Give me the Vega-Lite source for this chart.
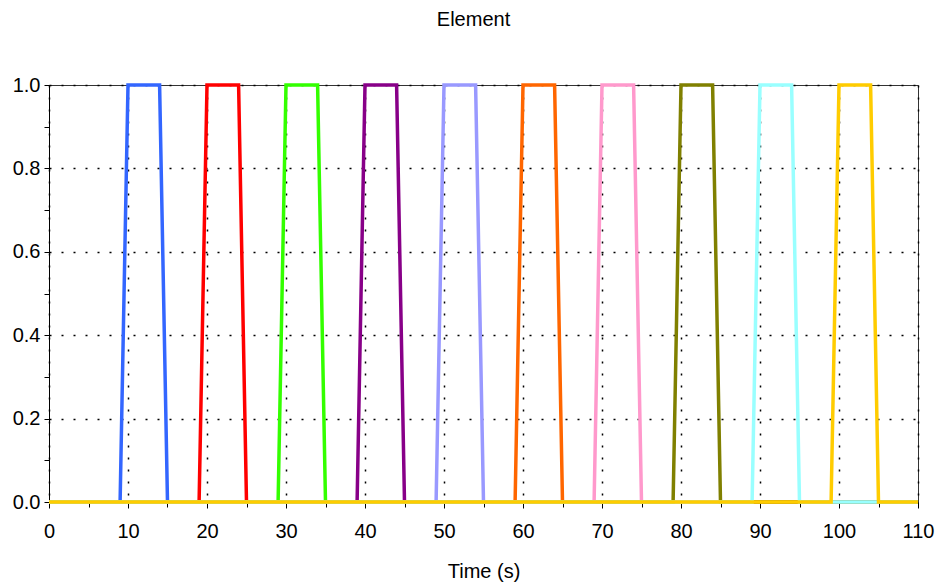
{
  "$schema": "https://vega.github.io/schema/vega-lite/v6.json",
  "autosize": {"type": "none"},
  "width": 869,
  "height": 417,
  "padding": {"left": 49, "top": 85, "right": 23, "bottom": 84},
  "background": "white",
  "title": {"text": "Element", "fontSize": 20, "font": "Liberation Sans", "fontWeight": "normal", "color": "black", "anchor": "middle", "offset": 45, "dx": -10},
  "config": {
    "view": {"stroke": "#333", "strokeWidth": 1},
    "axis": {"labelFont": "Liberation Sans", "titleFont": "Liberation Sans", "labelFontSize": 20, "titleFontSize": 20, "titleFontWeight": "normal", "labelColor": "black", "titleColor": "black", "domainColor": "black", "tickColor": "black", "gridColor": "black", "gridDash": [2, 10], "gridWidth": 1.5}
  },
  "data": {"values": [
    {"s": "s01", "t": 0, "v": 0}, {"s": "s01", "t": 9, "v": 0}, {"s": "s01", "t": 10, "v": 1}, {"s": "s01", "t": 14, "v": 1}, {"s": "s01", "t": 15, "v": 0}, {"s": "s01", "t": 110, "v": 0},
    {"s": "s02", "t": 0, "v": 0}, {"s": "s02", "t": 19, "v": 0}, {"s": "s02", "t": 20, "v": 1}, {"s": "s02", "t": 24, "v": 1}, {"s": "s02", "t": 25, "v": 0}, {"s": "s02", "t": 110, "v": 0},
    {"s": "s03", "t": 0, "v": 0}, {"s": "s03", "t": 29, "v": 0}, {"s": "s03", "t": 30, "v": 1}, {"s": "s03", "t": 34, "v": 1}, {"s": "s03", "t": 35, "v": 0}, {"s": "s03", "t": 110, "v": 0},
    {"s": "s04", "t": 0, "v": 0}, {"s": "s04", "t": 39, "v": 0}, {"s": "s04", "t": 40, "v": 1}, {"s": "s04", "t": 44, "v": 1}, {"s": "s04", "t": 45, "v": 0}, {"s": "s04", "t": 110, "v": 0},
    {"s": "s05", "t": 0, "v": 0}, {"s": "s05", "t": 49, "v": 0}, {"s": "s05", "t": 50, "v": 1}, {"s": "s05", "t": 54, "v": 1}, {"s": "s05", "t": 55, "v": 0}, {"s": "s05", "t": 110, "v": 0},
    {"s": "s06", "t": 0, "v": 0}, {"s": "s06", "t": 59, "v": 0}, {"s": "s06", "t": 60, "v": 1}, {"s": "s06", "t": 64, "v": 1}, {"s": "s06", "t": 65, "v": 0}, {"s": "s06", "t": 110, "v": 0},
    {"s": "s07", "t": 0, "v": 0}, {"s": "s07", "t": 69, "v": 0}, {"s": "s07", "t": 70, "v": 1}, {"s": "s07", "t": 74, "v": 1}, {"s": "s07", "t": 75, "v": 0}, {"s": "s07", "t": 110, "v": 0},
    {"s": "s08", "t": 0, "v": 0}, {"s": "s08", "t": 79, "v": 0}, {"s": "s08", "t": 80, "v": 1}, {"s": "s08", "t": 84, "v": 1}, {"s": "s08", "t": 85, "v": 0}, {"s": "s08", "t": 110, "v": 0},
    {"s": "s09", "t": 0, "v": 0}, {"s": "s09", "t": 89, "v": 0}, {"s": "s09", "t": 90, "v": 1}, {"s": "s09", "t": 94, "v": 1}, {"s": "s09", "t": 95, "v": 0}, {"s": "s09", "t": 110, "v": 0},
    {"s": "s10", "t": 0, "v": 0}, {"s": "s10", "t": 99, "v": 0}, {"s": "s10", "t": 100, "v": 1}, {"s": "s10", "t": 104, "v": 1}, {"s": "s10", "t": 105, "v": 0}, {"s": "s10", "t": 110, "v": 0}
  ]},
  "resolve": {"axis": {"x": "independent", "y": "independent"}},
  "layer": [
    {
      "mark": {"type": "point", "opacity": 0},
      "encoding": {
        "x": {"field": "t", "type": "quantitative", "scale": {"domain": [0, 110], "nice": false, "zero": false},
              "axis": {"orient": "bottom", "values": [5, 15, 25, 35, 45, 55, 65, 75, 85, 95, 105], "labels": false, "title": null, "grid": false, "domain": false, "tickSize": 5}},
        "y": {"field": "v", "type": "quantitative", "scale": {"domain": [0, 1], "nice": false},
              "axis": {"orient": "left", "values": [0.1, 0.3, 0.5, 0.7, 0.9], "labels": false, "title": null, "grid": false, "domain": false, "tickSize": 5}}
      }
    },
    {
      "mark": {"type": "line", "strokeWidth": 3.5, "strokeJoin": "miter", "clip": false},
      "encoding": {
        "x": {"field": "t", "type": "quantitative", "scale": {"domain": [0, 110], "nice": false, "zero": false},
              "axis": {"orient": "bottom", "values": [0, 10, 20, 30, 40, 50, 60, 70, 80, 90, 100, 110], "title": "Time (s)", "grid": true, "tickSize": 6, "labelPadding": 13, "titlePadding": 20, "labelFlush": false}},
        "y": {"field": "v", "type": "quantitative", "scale": {"domain": [0, 1], "nice": false},
              "axis": {"orient": "left", "values": [0, 0.2, 0.4, 0.6, 0.8, 1.0], "format": ".1f", "title": null, "grid": true, "tickSize": 5, "labelPadding": 4, "labelFlush": false}},
        "color": {"field": "s", "type": "nominal", "legend": null,
                  "scale": {"domain": ["s01", "s02", "s03", "s04", "s05", "s06", "s07", "s08", "s09", "s10"],
                            "range": ["#3366ff", "#ff0000", "#33ff00", "#880088", "#9999ff", "#ff6600", "#ff99cc", "#808000", "#99ffff", "#ffcc00"]}}
      }
    }
  ]
}
